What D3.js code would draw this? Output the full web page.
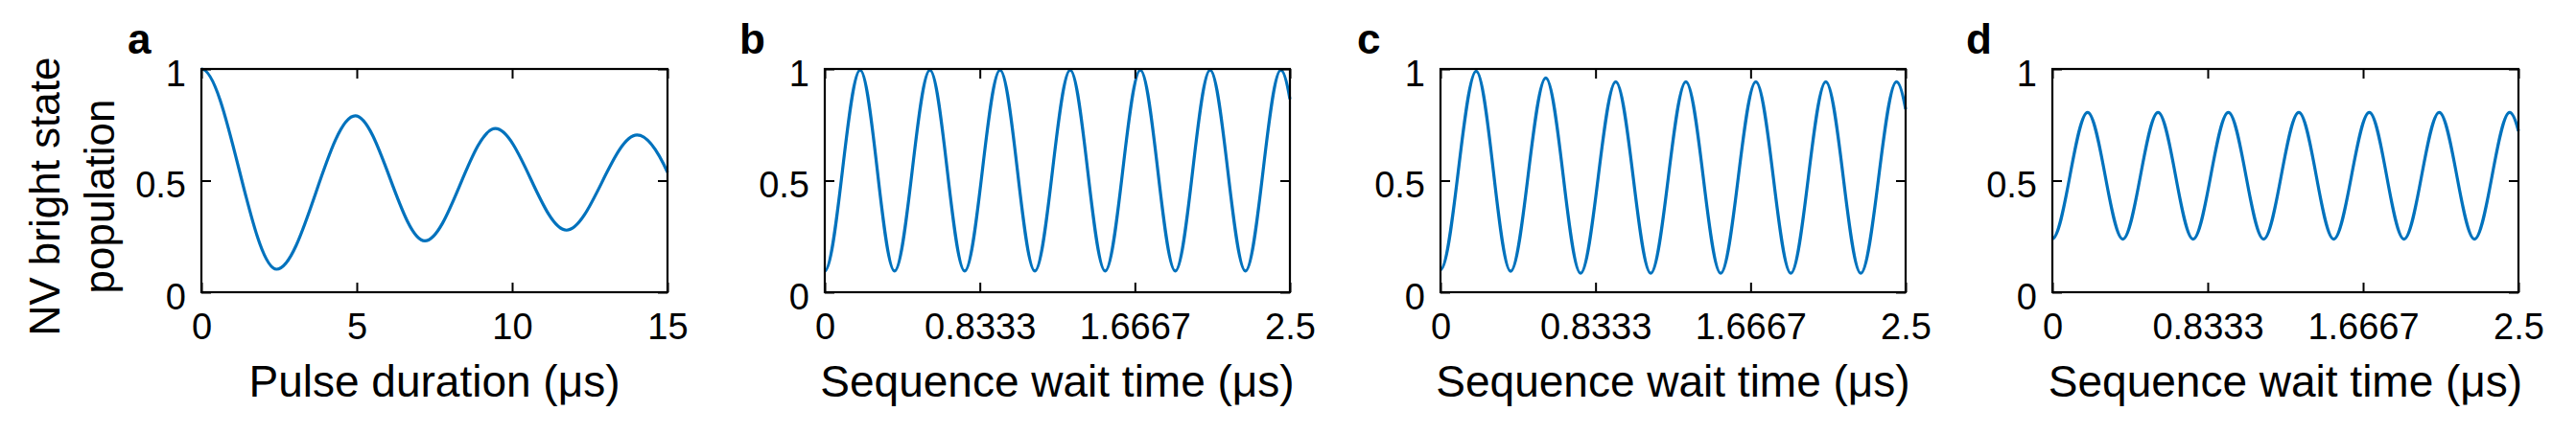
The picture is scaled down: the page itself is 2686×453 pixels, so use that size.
<!DOCTYPE html>
<html>
<head>
<meta charset="utf-8">
<script src="https://cdn.jsdelivr.net/npm/d3@7"></script>
<style>
  body { margin: 0; background: #fff; }
  text { font-family: "Liberation Sans", Arial, Helvetica, sans-serif; fill: #000; }
</style>
</head>
<body>
<div class="svg"></div>
<script>
//Config
var width = 2686,
    height = 453,
    top_ = 72,
    bottom = 305,
    lineColor = "#0072BD";

//Data (extrema of each trace plus its end points)
var aTime = [0, 2.42, 4.95, 7.19, 9.46, 11.75, 14.02, 15];
var aPop  = [1.0, 0.103, 0.79, 0.23, 0.733, 0.278, 0.704, 0.537];

var bTime = [0, 0.190, 0.375, 0.565, 0.752, 0.942, 1.129, 1.319, 1.507, 1.696, 1.884, 2.071, 2.261, 2.451, 2.5];
var bPop  = [0.095, 0.995, 0.095, 0.995, 0.095, 0.995, 0.095, 0.995, 0.095, 0.995, 0.095, 0.995, 0.095, 0.995, 0.865];

var cTime = [0, 0.192, 0.377, 0.566, 0.753, 0.942, 1.130, 1.319, 1.506, 1.695, 1.883, 2.071, 2.259, 2.451, 2.5];
var cPop  = [0.10, 0.99, 0.094, 0.96, 0.085, 0.943, 0.085, 0.943, 0.085, 0.943, 0.085, 0.943, 0.085, 0.943, 0.82];

var dTime = [0, 0.189, 0.378, 0.567, 0.755, 0.944, 1.133, 1.322, 1.509, 1.700, 1.886, 2.075, 2.264, 2.453, 2.5];
var dPop  = [0.24, 0.805, 0.238, 0.805, 0.238, 0.805, 0.238, 0.805, 0.238, 0.805, 0.238, 0.805, 0.238, 0.805, 0.722];

var yTicks = [0, 0.5, 1];
var yTickLabels = ["0", "0.5", "1"];
var aTicks = [0, 5, 10, 15];
var aTickLabels = ["0", "5", "10", "15"];
var waitTicks = [0, 0.8333, 1.6667, 2.5];
var waitTickLabels = ["0", "0.8333", "1.6667", "2.5"];

var panels = [
  { letter: "a", left: 210, right: 696, domain: [0, 15],  time: aTime, pop: aPop, ticks: aTicks, labels: aTickLabels, title: "Pulse duration (\u03bcs)", letterX: 133 },
  { letter: "b", left: 860, right: 1345, domain: [0, 2.5], time: bTime, pop: bPop, ticks: waitTicks, labels: waitTickLabels, title: "Sequence wait time (\u03bcs)", letterX: 771 },
  { letter: "c", left: 1502, right: 1987, domain: [0, 2.5], time: cTime, pop: cPop, ticks: waitTicks, labels: waitTickLabels, title: "Sequence wait time (\u03bcs)", letterX: 1415 },
  { letter: "d", left: 2140, right: 2626, domain: [0, 2.5], time: dTime, pop: dPop, ticks: waitTicks, labels: waitTickLabels, title: "Sequence wait time (\u03bcs)", letterX: 2050 }
];

// flat tangents at every extremum, sloped tangent at the trailing point
function curveFlat(context) {
  var pts;
  return {
    areaStart: function() {},
    areaEnd: function() {},
    lineStart: function() { pts = []; },
    point: function(x, y) { pts.push([+x, +y]); },
    lineEnd: function() {
      pts.forEach(function(p, i) {
        if (i === 0) { context.moveTo(p[0], p[1]); return; }
        var q = pts[i - 1],
            dx = (p[0] - q[0]) / 3,
            endPull = i === pts.length - 1 ? 1.8 * (p[1] - q[1]) / 3 : 0;
        context.bezierCurveTo(q[0] + dx, q[1], p[0] - dx, p[1] - endPull, p[0], p[1]);
      });
    }
  };
}

var svg = d3.select(".svg")
  .append("svg")
  .attr("width", width)
  .attr("height", height);

svg.append("rect").attr("width", width).attr("height", height).attr("fill", "#fff");

var y = d3.scaleLinear().domain([0, 1]).range([bottom, top_]);

panels.forEach(function (p) {
  var x = d3.scaleLinear().domain(p.domain).range([p.left, p.right]);
  var g = svg.append("g");

  //trace
  var pts = p.time.map(function (t, i) { return [t, p.pop[i]]; });
  g.append("path")
    .datum(pts)
    .attr("fill", "none")
    .attr("stroke", lineColor)
    .attr("stroke-width", 3.2)
    .attr("d", d3.line()
      .x(function (d) { return x(d[0]); })
      .y(function (d) { return y(d[1]); })
      .curve(curveFlat));

  //axes, ticks pointing inward
  var xb = g.append("g").attr("transform", "translate(0," + bottom + ")")
    .call(d3.axisBottom(x).tickValues(p.ticks)
      .tickFormat(function (d, i) { return p.labels[i]; })
      .tickSizeInner(-10).tickSizeOuter(0).tickPadding(22));
  var xt = g.append("g").attr("transform", "translate(0," + top_ + ")")
    .call(d3.axisTop(x).tickValues(p.ticks).tickFormat("")
      .tickSizeInner(-10).tickSizeOuter(0));
  var yl = g.append("g").attr("transform", "translate(" + p.left + ",0)")
    .call(d3.axisLeft(y).tickValues(yTicks)
      .tickFormat(function (d, i) { return yTickLabels[i]; })
      .tickSizeInner(-10).tickSizeOuter(0).tickPadding(16));
  var yr = g.append("g").attr("transform", "translate(" + p.right + ",0)")
    .call(d3.axisRight(y).tickValues(yTicks).tickFormat("")
      .tickSizeInner(-10).tickSizeOuter(0));

  [xb, xt, yl, yr].forEach(function (a) {
    a.select(".domain").remove();
    a.selectAll(".tick line").attr("stroke", "#000").attr("stroke-width", 2);
    a.selectAll(".tick text")
      .style("font-family", "'Liberation Sans', Arial, sans-serif")
      .style("font-size", "38px")
      .attr("fill", "#000");
  });
  yl.selectAll(".tick text").attr("dy", "0.45em");

  //box
  g.append("rect")
    .attr("x", p.left).attr("y", top_)
    .attr("width", p.right - p.left).attr("height", bottom - top_)
    .attr("fill", "none").attr("stroke", "#000").attr("stroke-width", 2.2);

  //x title
  g.append("text")
    .attr("x", (p.left + p.right) / 2)
    .attr("y", 414)
    .attr("text-anchor", "middle")
    .style("font-size", "46px")
    .text(p.title);

  //panel letter
  g.append("text")
    .attr("x", p.letterX)
    .attr("y", 56)
    .style("font-size", "44px")
    .style("font-weight", "bold")
    .text(p.letter);
});

//y title
var yt = svg.append("text")
  .attr("transform", "translate(62,205) rotate(-90)")
  .attr("text-anchor", "middle")
  .style("font-size", "44px");
yt.append("tspan").attr("x", 0).attr("y", 0).text("NV bright state");
yt.append("tspan").attr("x", 0).attr("y", 57).text("population");
</script>
</body>
</html>
